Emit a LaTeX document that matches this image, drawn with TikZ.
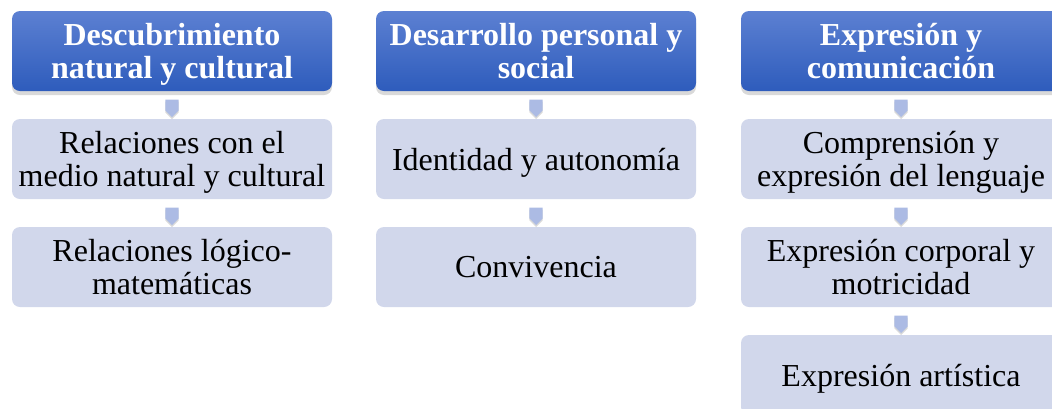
\documentclass[tikz,border=0pt]{standalone}
\usepackage{fontspec}
\setmainfont{Liberation Serif}
\usetikzlibrary{calc,shadows,shapes.arrows}

\definecolor{hdrtop}{RGB}{92,128,210}
\definecolor{hdrbot}{RGB}{46,92,188}
\definecolor{itemfill}{RGB}{209,215,235}
\definecolor{arrfill}{RGB}{172,187,228}

\tikzset{
  hdrbox/.style={rounded corners=6pt,minimum width=240pt,minimum height=60pt,
    top color=hdrtop,bottom color=hdrbot,text=white,align=center,inner sep=0pt,
    font=\fontsize{24}{24.75}\selectfont\bfseries,text depth=0pt,
    drop shadow={opacity=0.3,shadow xshift=0pt,shadow yshift=-3pt}},
  itembox/.style={rounded corners=6pt,minimum width=240pt,minimum height=60pt,
    fill=itemfill,align=center,inner sep=0pt,text depth=0pt,
    font=\fontsize{24}{24.75}\selectfont},
  downarr/.style={single arrow,single arrow head extend=0pt,shape border rotate=270,
    minimum width=10pt,minimum height=13pt,inner sep=0pt,fill=arrfill,
    drop shadow={opacity=0.3,shadow xshift=0pt,shadow yshift=-1.5pt}}
}

\begin{document}
\begin{tikzpicture}[x=0.75pt,y=-0.75pt]
  \clip (0,0) rectangle (1052,408);
  % columna 1
  \node[hdrbox] (h1) at (172,51) {Descubrimiento\\natural y cultural};
  \node[itembox] (b11) at (172,159) {Relaciones con el\\medio natural y cultural};
  \node[itembox] (b12) at (172,267) {Relaciones lógico-\\matemáticas};
  \node[downarr] (a11) at ($(h1.south)!0.5!(b11.north)$) {};
  \node[downarr] (a12) at ($(b11.south)!0.5!(b12.north)$) {};
  % columna 2
  \node[hdrbox] (h2) at (536,51) {Desarrollo personal y\\social};
  \node[itembox] (b21) at (536,159) {Identidad y autonomía};
  \node[itembox] (b22) at (536,267) {Convivencia};
  \node[downarr] (a21) at ($(h2.south)!0.5!(b21.north)$) {};
  \node[downarr] (a22) at ($(b21.south)!0.5!(b22.north)$) {};
  % columna 3
  \node[hdrbox] (h3) at (901,51) {Expresión y\\comunicación};
  \node[itembox] (b31) at (901,159) {Comprensión y\\expresión del lenguaje};
  \node[itembox] (b32) at (901,267) {Expresión corporal y\\motricidad};
  \node[itembox] (b33) at (901,375) {Expresión artística};
  \node[downarr] (a31) at ($(h3.south)!0.5!(b31.north)$) {};
  \node[downarr] (a32) at ($(b31.south)!0.5!(b32.north)$) {};
  \node[downarr] (a33) at ($(b32.south)!0.5!(b33.north)$) {};
\end{tikzpicture}
\end{document}
